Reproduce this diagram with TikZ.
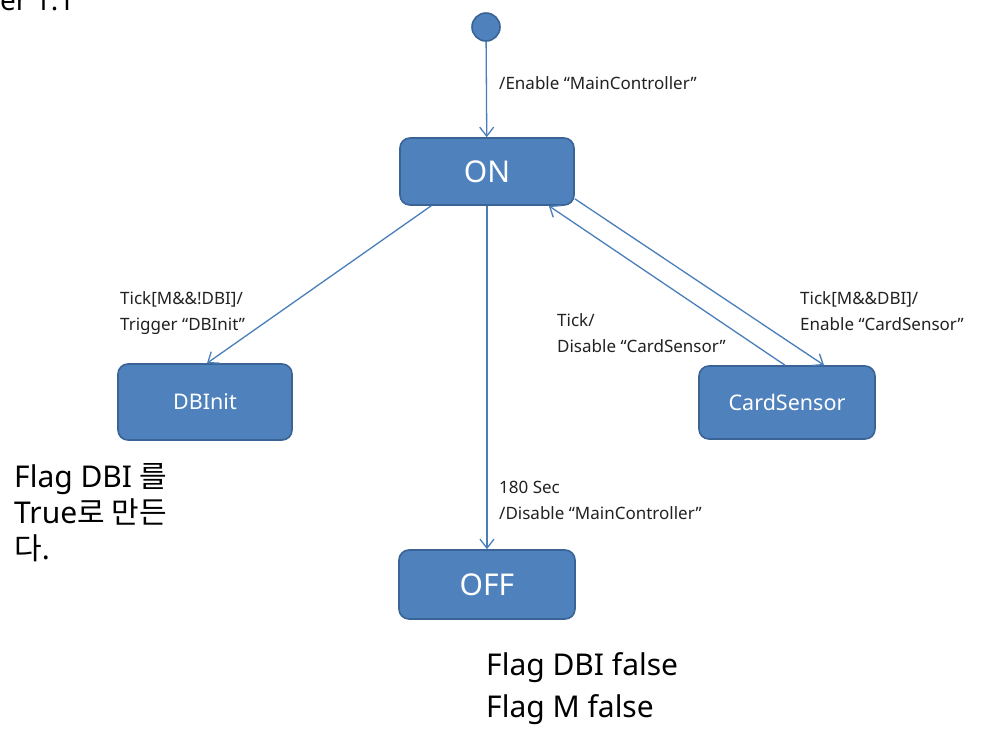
\documentclass[tikz,border=0pt]{standalone}
\usepackage{fontspec}
\setmainfont{Noto Sans}
\newfontfamily\kr{Noto Sans CJK KR}
\usetikzlibrary{arrows.meta}
\definecolor{boxfill}{HTML}{4F81BD}
\definecolor{boxline}{HTML}{3A6496}
\definecolor{arrowc}{HTML}{4A7EBB}
\definecolor{txt}{HTML}{222222}
\tikzset{
  statebox/.style={draw=boxline, line width=1.6pt, fill=boxfill, rounded corners=10pt,
    text=white, inner sep=0pt},
  trans/.style={draw=arrowc, line width=1.3pt, -{Straight Barb[length=9pt,width=14pt,line width=1.3pt]}},
  lbl/.style={anchor=north west, align=left, text=txt, inner sep=0pt,
    font=\fontsize{17}{26}\selectfont},
  note/.style={anchor=north west, align=left, text=black, inner sep=0pt},
}
\begin{document}
\begin{tikzpicture}[x=1pt,y=-1pt]
\useasboundingbox[fill=white] (0,0) rectangle (989,729);
% states
\node[circle, draw=boxline, line width=1.6pt, fill=boxfill, minimum size=28pt, inner sep=0pt] (init) at (486,27) {};
\node[statebox, minimum width=174pt, minimum height=67pt, font=\fontsize{30}{30}\selectfont] (on) at (487,171.5) {ON};
\node[statebox, minimum width=174pt, minimum height=76pt, font=\fontsize{21.5}{22}\selectfont] (dbinit) at (205,402) {DBInit};
\node[statebox, minimum width=176pt, minimum height=73pt, font=\fontsize{21.5}{22}\selectfont] (card) at (787,402.5) {CardSensor};
\node[statebox, minimum width=176pt, minimum height=69pt, font=\fontsize{30}{30}\selectfont] (off) at (487,584.5) {OFF};
% transitions
\draw[trans] (init) -- (on);
\draw[trans] ([xshift=32pt]on.south west) -- ([xshift=2pt]dbinit.north);
\draw[trans] (on) -- (off);
\draw[trans] ([yshift=7pt]on.south east) -- ([xshift=37pt]card.north);
\draw[trans] ([xshift=-2pt]card.north) -- ([xshift=-26pt]on.south east);
% labels
\node[lbl] (l1) at (499,76) {/Enable “MainController”};
\node[lbl] (l2) at (120,291) {Tick[M\&\&!DBI]/\\Trigger “DBInit”};
\node[lbl] (l3) at (557,313) {Tick/\\Disable “CardSensor”};
\node[lbl] (l4) at (800,291) {Tick[M\&\&DBI]/\\Enable “CardSensor”};
\node[lbl] (l5) at (499,481) {180 Sec\\/Disable “MainController”};
% notes
\node[note, font=\fontsize{30}{36}\selectfont] (n1) at (14,463) {Flag DBI {\kr 를}\\True{\kr 로 만든}\\{\kr 다}.};
\node[note, font=\fontsize{30}{42}\selectfont] (n2) at (486,652) {Flag DBI false\\Flag M false};
\node[anchor=base west, inner sep=0pt, font=\fontsize{28}{28}\selectfont] (ver) at (0,10) {er 1.1};
\end{tikzpicture}
\end{document}
